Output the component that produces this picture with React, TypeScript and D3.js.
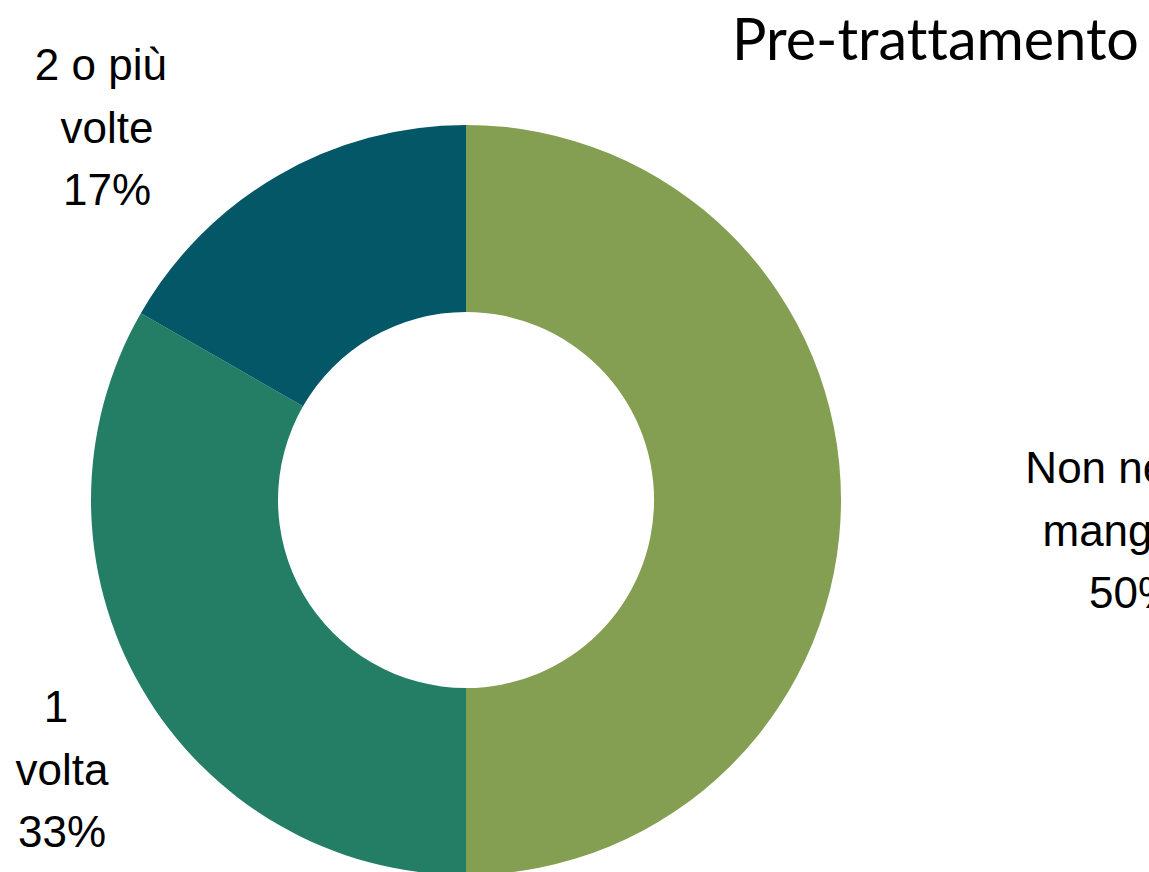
import React, { useEffect, useRef } from 'react';
import * as d3 from 'd3';

// Chart data
const categories = ['Non ne ho mangiato', '1 volta', '2 o più volte'];
const values = [50, 33.3, 16.7];
const percentLabels = ['50%', '33%', '17%'];
const labelLines = [
  ['Non ne ho ', 'mangiato', '50%'],
  ['1 ', 'volta', '33%'],
  ['2 o più ', 'volte', '17%'],
];
const colors = ['#849E52', '#247E66', '#035766'];
const title = 'Pre-trattamento';

export default function App() {
  const svgRef = useRef<SVGSVGElement>(null);

  useEffect(() => {
    if (!svgRef.current) return;
    const width = 1149;
    const height = 872;

    const svg = d3.select(svgRef.current);
    svg.selectAll('*').remove();

    const cx = 466;
    const cy = 500;
    const outerRadius = 375;
    const innerRadius = 188;

    const data = categories.map((c, i) => ({ name: c, value: values[i], pct: percentLabels[i] }));

    const pie = d3.pie<typeof data[0]>().value(d => d.value).sort(null);
    const arc = d3.arc<d3.PieArcDatum<typeof data[0]>>()
      .innerRadius(innerRadius)
      .outerRadius(outerRadius);

    const g = svg.append('g').attr('transform', `translate(${cx},${cy})`);

    g.selectAll('path')
      .data(pie(data))
      .enter().append('path')
      .attr('d', arc)
      .attr('fill', (d, i) => colors[i]);

    // Data labels (placed outside the ring, like the original)
    const labelPos = [
      { x: 1133, y: 483 },
      { x: 62, y: 722 },
      { x: 107, y: 80 },
    ];
    const lineHeight = 62.5;

    labelLines.forEach((lines, i) => {
      const t = svg.append('text')
        .attr('text-anchor', 'middle')
        .style('font-family', '"Liberation Sans", Arial, sans-serif')
        .style('font-size', '44px')
        .style('white-space', 'pre')
        .attr('xml:space', 'preserve')
        .attr('fill', '#000');
      lines.forEach((line, j) => {
        t.append('tspan')
          .attr('x', labelPos[i].x)
          .attr('y', labelPos[i].y + j * lineHeight)
          .text(line);
      });
    });

    // Title
    svg.append('text')
      .attr('x', 732)
      .attr('y', 60)
      .style('font-family', 'Lato, "Open Sans", sans-serif')
      .style('font-size', '57.5px')
      .style('font-variant-ligatures', 'none')
      .attr('fill', '#000')
      .text(title);

    svg.attr('width', width).attr('height', height);
  }, []);

  return (
    <div style={{ position: 'fixed', left: 0, top: 0, width: 1149, height: 872, overflow: 'hidden', background: '#fff' }}>
      <svg ref={svgRef} style={{ display: 'block' }}></svg>
    </div>
  );
}
